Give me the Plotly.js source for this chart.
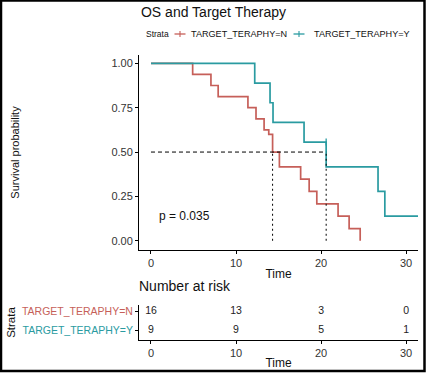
<!DOCTYPE html>
<html>
<head>
<meta charset="utf-8">
<script src="https://cdn.plot.ly/plotly-3.0.1.min.js"></script>
<style>
html,body{margin:0;padding:0;background:#fff;}
#chart{width:427px;height:373px;}
</style>
</head>
<body>
<div id="chart"></div>
<script>
// ---- data ----
const stratumNames = ["TARGET_TERAPHY=N", "TARGET_TERAPHY=Y"];
const timeN = [0, 4.9, 7.05, 7.9, 11.4, 12.35, 13.3, 13.85, 14.3, 15.1, 17.6, 18.6, 19.5, 22.0, 23.3, 24.6];
const survN = [1, 0.9375, 0.875, 0.8125, 0.75, 0.6875, 0.625, 0.6, 0.5, 0.417, 0.347, 0.278, 0.208, 0.139, 0.069, 0];
const timeY = [0, 12.2, 14.0, 14.35, 18.0, 20.6, 26.7, 27.5, 31.4];
const survY = [1, 0.889, 0.778, 0.667, 0.556, 0.417, 0.278, 0.139, 0.139];
const censorTimeY = [20.6];
const censorSurvY = [0.556];
const medianN = 14.3;
const medianY = 20.6;
const pValueText = "p = 0.035";
const riskTimes = [0, 10, 20, 30];
const riskN = [16, 13, 3, 0];
const riskY = [9, 9, 5, 1];
const xTicks = [0, 10, 20, 30];
const yTicks = [0, 0.25, 0.5, 0.75, 1];
const yTickText = ["0.00", "0.25", "0.50", "0.75", "1.00"];

const colN = "#C65F59";
const colY = "#2A9BA1";
const FONT = "Liberation Sans, Arial, sans-serif";

// pixel -> paper helpers (plot area: x 139..418, y 55..340)
const PL = 139, PW = 279, PB = 340, PH = 285;
const px = v => (v - PL) / PW;
const py = v => (PB - v) / PH;

const traces = [
  {x: timeN, y: survN, type: "scatter", mode: "lines", line: {shape: "hv", color: colN, width: 1.7},
   xaxis: "x", yaxis: "y", showlegend: false, hoverinfo: "skip"},
  {x: timeY, y: survY, type: "scatter", mode: "lines", line: {shape: "hv", color: colY, width: 1.7},
   xaxis: "x", yaxis: "y", showlegend: false, hoverinfo: "skip"},
  {x: censorTimeY, y: censorSurvY, type: "scatter", mode: "markers",
   marker: {symbol: "line-ns", size: 5, line: {color: colY, width: 1.3}},
   xaxis: "x", yaxis: "y", showlegend: false, hoverinfo: "skip"},
  // median lines
  {x: [0, medianY], y: [0.5, 0.5], type: "scatter", mode: "lines",
   line: {color: "#000", width: 1, dash: "4px,3px"}, xaxis: "x", yaxis: "y", showlegend: false, hoverinfo: "skip"},
  {x: [medianN, medianN], y: [0, 0.5], type: "scatter", mode: "lines",
   line: {color: "#000", width: 1, dash: "2px,3px"}, xaxis: "x", yaxis: "y", showlegend: false, hoverinfo: "skip"},
  {x: [medianY, medianY], y: [0, 0.5], type: "scatter", mode: "lines",
   line: {color: "#000", width: 1, dash: "2px,3px"}, xaxis: "x", yaxis: "y", showlegend: false, hoverinfo: "skip"},
  // risk table
  {x: riskTimes, y: riskTimes.map(() => 1), text: riskN.map(String), type: "scatter", mode: "text",
   textfont: {family: FONT, size: 10.5, color: "#222"}, xaxis: "x2", yaxis: "y2", showlegend: false, hoverinfo: "skip"},
  {x: riskTimes, y: riskTimes.map(() => 0), text: riskY.map(String), type: "scatter", mode: "text",
   textfont: {family: FONT, size: 10.5, color: "#222"}, xaxis: "x2", yaxis: "y2", showlegend: false, hoverinfo: "skip"}
];

const axisCommon = {
  showgrid: false, zeroline: false, showline: true, linecolor: "#000", linewidth: 1,
  ticks: "outside", ticklen: 3, tickcolor: "#000", tickwidth: 1,
  tickfont: {family: FONT, size: 11, color: "#333"}
};

// legend (manual, ggplot-style short keys)
const legY = 34;
const legKeys = [{cx: 180, col: colN}, {cx: 299, col: colY}];
const legShapes = [];
legKeys.forEach(k => {
  legShapes.push({type: "line", xref: "paper", yref: "paper", x0: px(k.cx - 5.5), x1: px(k.cx + 5.5), y0: py(legY), y1: py(legY),
                  line: {color: k.col, width: 1.3}});
  legShapes.push({type: "line", xref: "paper", yref: "paper", x0: px(k.cx), x1: px(k.cx), y0: py(legY - 3), y1: py(legY + 3),
                  line: {color: k.col, width: 1.1}});
});

const layout = {
  width: 427, height: 373,
  margin: {l: 139, r: 9, t: 55, b: 33},
  paper_bgcolor: "#fff", plot_bgcolor: "#fff",
  font: {family: FONT, color: "#000"},
  title: {text: "OS and Target Therapy", font: {family: FONT, size: 14, color: "#111"},
          x: 0.5, xref: "container", xanchor: "center", y: 1 - 12/373, yref: "container", yanchor: "middle"},
  showlegend: false,
  xaxis: Object.assign({}, axisCommon, {
    domain: [0, 1], range: [-1.41, 31.4], tickvals: xTicks, anchor: "y",
    title: {text: "Time", font: {family: FONT, size: 12, color: "#111"}, standoff: 1}
  }),
  yaxis: Object.assign({}, axisCommon, {
    domain: [90/285, 1], range: [-0.052, 1.047], tickvals: yTicks, ticktext: yTickText, anchor: "x",
    title: {text: "Survival probability", font: {family: FONT, size: 11, color: "#111"}, standoff: 89}
  }),
  xaxis2: Object.assign({}, axisCommon, {
    domain: [0, 1], range: [-1.41, 31.4], tickvals: xTicks, anchor: "y2",
    title: {text: "Time", font: {family: FONT, size: 12, color: "#111"}, standoff: 0}
  }),
  yaxis2: Object.assign({}, axisCommon, {
    domain: [0, 35/285], range: [-0.5, 1.35], tickvals: [1, 0], anchor: "x2",
    ticktext: ['<span style="color:' + colN + '">' + stratumNames[0] + '</span>',
               '<span style="color:' + colY + '">' + stratumNames[1] + '</span>'],
    tickfont: {family: FONT, size: 10.5},
    title: {text: "Strata", font: {family: FONT, size: 11.5, color: "#111"}, standoff: 3}
  }),
  annotations: [
    {text: pValueText, x: 0.7, y: 0.14, xref: "x", yref: "y", xanchor: "left", yanchor: "middle",
     showarrow: false, font: {family: FONT, size: 12, color: "#111"}},
    {text: "Number at risk", x: px(137), y: py(286), xref: "paper", yref: "paper",
     xanchor: "left", yanchor: "middle", showarrow: false, font: {family: FONT, size: 14, color: "#111"}},
    {text: "Strata", x: px(171), y: py(legY), xref: "paper", yref: "paper", xanchor: "right", yanchor: "middle",
     showarrow: false, font: {family: FONT, size: 8.5, color: "#111"}},
    {text: stratumNames[0], x: px(189), y: py(legY), xref: "paper", yref: "paper", xanchor: "left", yanchor: "middle",
     showarrow: false, font: {family: FONT, size: 9.1, color: "#111"}},
    {text: stratumNames[1], x: px(412), y: py(legY), xref: "paper", yref: "paper", xanchor: "right", yanchor: "middle",
     showarrow: false, font: {family: FONT, size: 9.1, color: "#111"}}
  ],
  shapes: [
    {type: "rect", xref: "paper", yref: "paper",
     x0: px(1), x1: px(424.5), y0: py(371), y1: py(0.5),
     line: {color: "#000", width: 2.5}, fillcolor: "rgba(0,0,0,0)"}
  ].concat(legShapes)
};

Plotly.newPlot("chart", traces, layout, {staticPlot: true, displayModeBar: false});
</script>
</body>
</html>
